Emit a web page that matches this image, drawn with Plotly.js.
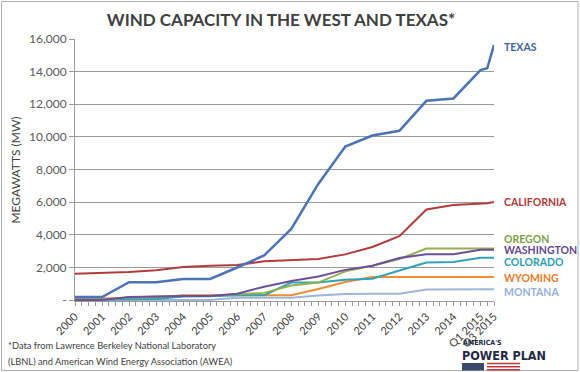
<!DOCTYPE html>
<html>
<head>
<meta charset="utf-8">
<script src="https://cdn.plot.ly/plotly-3.0.1.min.js"></script>
<style>html,body{margin:0;padding:0;background:#fff;}#chart{width:580px;height:372px;}</style>
</head>
<body>
<div id="chart"></div>
<script>
// Periods (year labels mark the start of each year; last three are 2015 quarters)
const periods = ['2000','2001','2002','2003','2004','2005','2006','2007','2008','2009','2010','2011','2012','2013','2014','Q1 2015','Q2 2015','Q3 2015'];
const periodPos = [2000,2001,2002,2003,2004,2005,2006,2007,2008,2009,2010,2011,2012,2013,2014,2015,2015.25,2015.5];

// Installed wind capacity, MW
const texas      = [184, 184, 1096, 1096, 1293, 1293, 1995, 2739, 4356, 7118, 9403, 10085, 10377, 12212, 12355, 14098, 14208, 15635];
const california = [1616, 1646, 1714, 1822, 2025, 2096, 2150, 2376, 2439, 2517, 2798, 3253, 3917, 5549, 5829, 5917, 5930, 6010];
const oregon     = [25, 25, 157, 218, 259, 263, 338, 438, 885, 1067, 1758, 2104, 2513, 3153, 3153, 3153, 3153, 3153];
const washington = [0, 0, 178, 228, 244, 244, 390, 818, 1163, 1447, 1849, 2104, 2573, 2808, 2808, 3075, 3075, 3075];
const colorado   = [22, 22, 61, 61, 223, 231, 291, 291, 1067, 1068, 1244, 1299, 1805, 2301, 2332, 2593, 2593, 2593];
const wyoming    = [73, 91, 140, 144, 285, 285, 288, 288, 288, 676, 1101, 1412, 1412, 1410, 1410, 1410, 1410, 1410];
const montana    = [0, 0, 0, 0, 2, 2, 137, 146, 146, 272, 375, 386, 386, 645, 645, 665, 665, 665];

// Axis tick labels
const xTickVals = [2000,2001,2002,2003,2004,2005,2006,2007,2008,2009,2010,2011,2012,2013,2014,2015,2015.5];
const xTickText = ['2000','2001','2002','2003','2004','2005','2006','2007','2008','2009','2010','2011','2012','2013','2014','Q1 2015','Q3 2015'];
const yTickVals = [0,2000,4000,6000,8000,10000,12000,14000,16000];
const yTickText = ['-','2,000','4,000','6,000','8,000','10,000','12,000','14,000','16,000'];

const seriesNames = ['MONTANA','WYOMING','COLORADO','OREGON','WASHINGTON','CALIFORNIA','TEXAS'];
const seriesData  = [montana, wyoming, colorado, oregon, washington, california, texas];
const lineColors  = ['#9db5d9','#f28b32','#2fa3ba','#92b050','#6d4f9c','#b23c3c','#4a74b4'];
const lineWidths  = [2, 2, 2, 2, 2, 2, 2.5];
const labelColors = ['#93afd9','#ec7a28','#2a9db6','#7d9e45','#5f4891','#b0383a','#3d64a2'];
const labelY      = [292, 278, 262, 238.5, 249.5, 202, 47];

const FONT = 'Lato, "Open Sans", sans-serif';
// plot area in pixels
const PX0 = 75, PX1 = 494, PY0 = 39, PY1 = 301;
const px = v => (v - PX0) / (PX1 - PX0);
const py = v => (PY1 - v) / (PY1 - PY0);

const traces = seriesData.map((d, i) => ({
  type: 'scatter', mode: 'lines', x: periodPos, y: d, name: seriesNames[i],
  text: periods, line: {color: lineColors[i], width: lineWidths[i]}, hoverinfo: 'text+y'
}));

const annotations = seriesNames.map((n, i) => ({
  xref: 'paper', yref: 'paper', x: px(502), y: py(labelY[i]), xanchor: 'left', yanchor: 'middle',
  text: '<b>' + n + '</b>', showarrow: false, font: {family: FONT, size: 10.5, color: labelColors[i]}
}));
annotations.push(
  {xref:'paper', yref:'paper', x: px(6), y: py(345), xanchor:'left', yanchor:'middle', showarrow:false,
   text:'*Data from Lawrence Berkeley National Laboratory', font:{family:FONT, size:9.3, color:'#404040'}},
  {xref:'paper', yref:'paper', x: px(6), y: py(361), xanchor:'left', yanchor:'middle', showarrow:false,
   text:'(LBNL) and American Wind Energy Association (AWEA)', font:{family:FONT, size:9.3, color:'#404040'}},
  {xref:'paper', yref:'paper', x: px(461), y: py(343), xanchor:'left', yanchor:'middle', showarrow:false,
   text:"<b>AMERICA'S</b>", font:{family:'"DejaVu Sans Condensed", "Liberation Sans Narrow", sans-serif', size:7, color:'#1f2a44'}},
  {xref:'paper', yref:'paper', x: px(460), y: py(355), xanchor:'left', yanchor:'middle', showarrow:false,
   text:'<b>POWER PLAN</b>', font:{family:'"Liberation Sans Narrow", "DejaVu Sans Condensed", sans-serif', size:12.5, color:'#1f2a44'}}
);

const shapes = [
  {type:'rect', xref:'paper', yref:'paper', x0:px(1.5), x1:px(578), y0:py(1.5), y1:py(370.5),
   line:{color:'#b0b0b0', width:1}, fillcolor:'rgba(0,0,0,0)', layer:'below'},
  {type:'rect', xref:'paper', yref:'paper', x0:px(462), x1:px(484), y0:py(363), y1:py(370.5),
   line:{width:0}, fillcolor:'#3a4a6b'},
  {type:'line', xref:'paper', yref:'paper', x0:px(487), x1:px(520), y0:py(363.5), y1:py(363.5), line:{color:'#c0393b', width:1.5}},
  {type:'line', xref:'paper', yref:'paper', x0:px(487), x1:px(520), y0:py(366.7), y1:py(366.7), line:{color:'#c0393b', width:1.5}},
  {type:'line', xref:'paper', yref:'paper', x0:px(487), x1:px(520), y0:py(369.8), y1:py(369.8), line:{color:'#c0393b', width:1.5}}
];

const layout = {
  width: 580, height: 372,
  margin: {l: PX0, r: 580 - PX1, t: PY0, b: 372 - PY1, pad: 0},
  paper_bgcolor: '#fff', plot_bgcolor: '#fff',
  showlegend: false,
  font: {family: FONT, color: '#404040'},
  title: {text: '<b>WIND CAPACITY IN THE WEST AND TEXAS*</b>', x: 281/580, xanchor: 'center', y: 1 - 20/372, yanchor: 'middle',
          xref: 'container', yref: 'container', font: {family: FONT, size: 17, color: '#404040'}},
  xaxis: {
    range: [2000, 2015.5], tickmode: 'array', tickvals: xTickVals, ticktext: xTickText,
    tickangle: -45, tickfont: {family: FONT, size: 11, color: '#404040'},
    showgrid: false, zeroline: false, showline: true, linecolor: '#9a9a9a', linewidth: 1,
    ticks: 'outside', ticklen: 4, tickcolor: '#9a9a9a',
    minor: {dtick: 0.25, tick0: 2000, ticks: 'outside', ticklen: 4, tickcolor: '#9a9a9a', showgrid: false}
  },
  yaxis: {
    range: [-60, 16000], tickmode: 'array', tickvals: yTickVals, ticktext: yTickText,
    tickfont: {family: FONT, size: 12, color: '#595959'},
    showgrid: true, gridcolor: '#9a9a9a', gridwidth: 1, zeroline: false,
    showline: true, linecolor: '#9a9a9a', linewidth: 1, ticks: 'outside', ticklen: 5, tickcolor: '#9a9a9a',
    title: {text: 'MEGAWATTS (MW)', font: {family: FONT, size: 12, color: '#404040'}, standoff: 5}
  },
  annotations: annotations,
  shapes: shapes
};

Plotly.newPlot('chart', traces, layout, {displayModeBar: false, staticPlot: true});
</script>
</body>
</html>
